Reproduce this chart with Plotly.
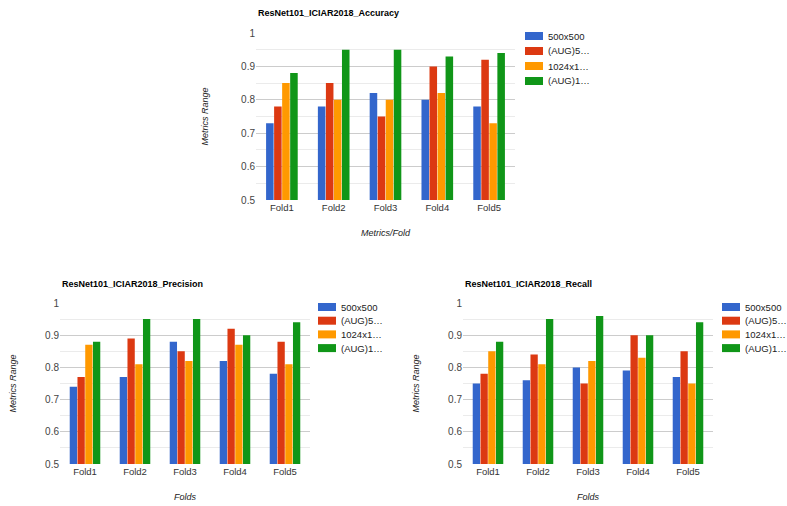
import plotly.graph_objects as go

folds = ["Fold1", "Fold2", "Fold3", "Fold4", "Fold5"]
series_names = ["500x500", "(AUG)5…", "1024x1…", "(AUG)1…"]
colors = ["#3366cc", "#dc3912", "#ff9900", "#109618"]

accuracy_500 = [0.73, 0.78, 0.82, 0.80, 0.78]
accuracy_aug5 = [0.78, 0.85, 0.75, 0.90, 0.92]
accuracy_1024 = [0.85, 0.80, 0.80, 0.82, 0.73]
accuracy_aug1 = [0.88, 0.95, 0.95, 0.93, 0.94]

precision_500 = [0.74, 0.77, 0.88, 0.82, 0.78]
precision_aug5 = [0.77, 0.89, 0.85, 0.92, 0.88]
precision_1024 = [0.87, 0.81, 0.82, 0.87, 0.81]
precision_aug1 = [0.88, 0.95, 0.95, 0.90, 0.94]

recall_500 = [0.75, 0.76, 0.80, 0.79, 0.77]
recall_aug5 = [0.78, 0.84, 0.75, 0.90, 0.85]
recall_1024 = [0.85, 0.81, 0.82, 0.83, 0.75]
recall_aug1 = [0.88, 0.95, 0.96, 0.90, 0.94]

y_ticks = [0.5, 0.6, 0.7, 0.8, 0.9, 1.0]
y_tick_labels = ["0.5", "0.6", "0.7", "0.8", "0.9", "1"]

W, H = 787, 506
def px(x): return x / W
def py(y): return 1 - y / H

panels = [
    dict(title="ResNet101_ICIAR2018_Accuracy", xtitle="Metrics/Fold",
         data=[accuracy_500, accuracy_aug5, accuracy_1024, accuracy_aug1],
         x0=256, x1=515, y0=33, y1=200, leg_x=525, leg_y=36, leg_step=15,
         title_y=13, ystand=30, xstand=18),
    dict(title="ResNet101_ICIAR2018_Precision", xtitle="Folds",
         data=[precision_500, precision_aug5, precision_1024, precision_aug1],
         x0=60, x1=310, y0=303, y1=464, leg_x=318, leg_y=307, leg_step=13.7,
         title_y=284, ystand=26, xstand=18),
    dict(title="ResNet101_ICIAR2018_Recall", xtitle="Folds",
         data=[recall_500, recall_aug5, recall_1024, recall_aug1],
         x0=463, x1=713, y0=303, y1=464, leg_x=722, leg_y=307, leg_step=13.7,
         title_y=284, ystand=26, xstand=18),
]

FONT = "Liberation Sans, Arial, sans-serif"
fig = go.Figure()
layout = dict(
    width=W, height=H, margin=dict(l=0, r=0, t=0, b=0, autoexpand=False),
    paper_bgcolor="white", plot_bgcolor="white",
    barmode="group", bargap=0.38, bargroupgap=0.06,
    font=dict(family=FONT, size=10, color="#444444"),
    showlegend=False,
    annotations=[], shapes=[],
)

for i, p in enumerate(panels):
    sfx = "" if i == 0 else str(i + 1)
    xa, ya = "x" + sfx, "y" + sfx
    for name, vals, col in zip(series_names, p["data"], colors):
        fig.add_trace(go.Bar(x=folds, y=vals, name=name, marker_color=col,
                             marker_line_width=0, xaxis=xa, yaxis=ya))
    layout["xaxis" + sfx] = dict(
        domain=[px(p["x0"]), px(p["x1"])], anchor=ya,
        showgrid=False, showline=False, ticks="",
        tickfont=dict(size=9.5, color="#333333"),
        title=dict(text="<i>" + p["xtitle"] + "</i>", font=dict(size=9, color="#222222"),
                   standoff=p["xstand"]),
    )
    layout["yaxis" + sfx] = dict(
        domain=[py(p["y1"]), py(p["y0"])], anchor=xa,
        range=[0.5, 1.0], tickvals=y_ticks, ticktext=y_tick_labels,
        showgrid=True, gridcolor="#cccccc", gridwidth=1,
        minor=dict(dtick=0.05, tick0=0.5, showgrid=True, gridcolor="#ebebeb"),
        zeroline=False, showline=False, ticks="",
        tickfont=dict(size=10, color="#444444"),
        title=dict(text="<i>Metrics Range</i>", font=dict(size=9, color="#222222"),
                   standoff=p["ystand"]),
    )
    for k, (name, col) in enumerate(zip(series_names, colors)):
        cy = p["leg_y"] + p["leg_step"] * k
        layout["shapes"].append(dict(
            type="rect", xref="paper", yref="paper",
            x0=px(p["leg_x"]), x1=px(p["leg_x"] + 18),
            y0=py(cy + 4), y1=py(cy - 4),
            fillcolor=col, line=dict(width=0)))
        layout["annotations"].append(dict(
            text=name, xref="paper", yref="paper",
            x=px(p["leg_x"] + 21), y=py(cy), xanchor="left", yanchor="middle",
            showarrow=False, font=dict(size=9.5, color="#222222")))
    layout["annotations"].append(dict(
        text="<b>" + p["title"] + "</b>", xref="paper", yref="paper",
        x=px(p["x0"]), y=py(p["title_y"]), xanchor="left", yanchor="middle",
        showarrow=False, font=dict(size=9, color="#000000")))

fig.update_layout(**layout)
fig.write_html("out.html", config={"displayModeBar": False},
               post_script="document.body.style.margin='0';document.body.style.overflow='hidden';")
